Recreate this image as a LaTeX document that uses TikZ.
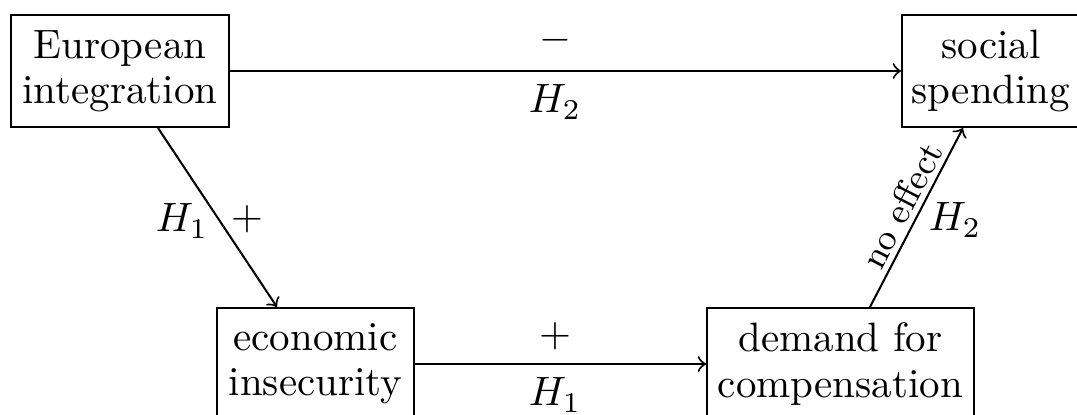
\documentclass[tikz,border=0pt]{standalone}
\usetikzlibrary{calc}
\begin{document}
\begin{tikzpicture}[x=0.2439pt,y=-0.2439pt,
  box/.style={draw,line width=0.5pt,align=center,inner sep=0pt,minimum height=27.3pt,
    font=\fontsize{10}{11}\selectfont},
  conn/.style={->,line width=0.5pt},
  lab/.style={inner sep=0pt}]
\useasboundingbox (0,0) rectangle (1077,414);
\node[box,minimum width=53.2pt] (EI) at (120,71) {European\\integration};
\node[box,minimum width=43.4pt] (SS) at (991,71) {social\\spending};
\node[box,minimum width=48.0pt] (EcI) at (315.5,364) {economic\\insecurity};
\node[box,minimum width=65.1pt] (DC) at (840.5,364) {demand for\\compensation};
\coordinate (a1) at (158,0);
\coordinate (a2) at (277,0);
\coordinate (a3) at (870,0);
\coordinate (a4) at (963,0);
\draw[conn] (EI.east) -- (SS.west);
\draw[conn] (EcI.east) -- (DC.west);
\draw[conn] (EI.south -| a1) -- (EcI.north -| a2);
\draw[conn] (DC.north -| a3) -- node[sloped,above,inner sep=1.2pt,font=\fontsize{8.8}{10}\selectfont,pos=0.52] (ne) {no effect} (SS.south -| a4);
\node[lab] (m1) at (555,40) {$-$};
\node[lab] (h2a) at (555,102) {$H_2$};
\node[lab] (p1) at (555,336) {$+$};
\node[lab] (h1b) at (555,395) {$H_1$};
\node[lab] (h1a) at (182,221) {$H_1$};
\node[lab] (p2) at (247,219) {$+$};
\node[lab] (h2b) at (955,220) {$H_2$};
\end{tikzpicture}
\end{document}
